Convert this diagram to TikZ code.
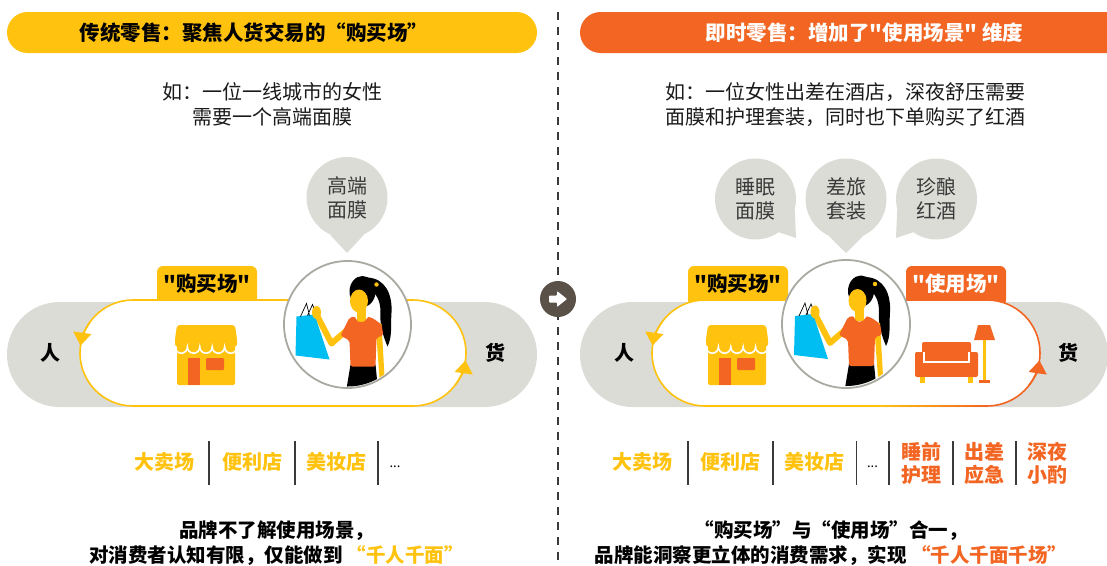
\documentclass[tikz,border=0pt]{standalone}
\usepackage{fontspec}
\setmainfont{Noto Sans CJK SC}[Ligatures=TeXOff]
\usetikzlibrary{arrows.meta}

\definecolor{buyyellow}{HTML}{FFC20E}
\definecolor{useorange}{HTML}{F26522}
\definecolor{paleground}{HTML}{DCDCD7}
\definecolor{ringgray}{HTML}{A9A9A1}
\definecolor{knobgray}{HTML}{5A5249}
\definecolor{bagblue}{HTML}{00BDF2}
\definecolor{inkgray}{HTML}{3A3A3A}
\definecolor{inkblack}{HTML}{1A1A1A}

\tikzset{
	shop/.pic={
		\fill[buyyellow, rounded corners=2pt] (2,6) rectangle (60,60);
		\fill[buyyellow, rounded corners=3pt] (2,0) -- (60,0) -- (62,14) -- (62,22) -- (0,22) -- (0,14) -- cycle;
		\draw[white, line width=1.6pt] (0,22) foreach \i in {0,...,4} {arc[start angle=180, end angle=0, radius=6.2]};
		\fill[useorange] (13,33) rectangle (25,60);
		\fill[useorange, rounded corners=1pt] (31,33) rectangle (49,45);
	},
	shopper/.pic={
		\begin{scope}
			\clip (0,0) circle (62pt);
			\fill[black] (20,-47) .. controls (38,-46) and (45,-30) .. (44,-12) .. controls (43,2) and (45,12) .. (40,22) .. controls (36,12) and (32,2) .. (33,-12) .. controls (33,-24) and (29,-32) .. (20,-36) -- cycle;
			\fill[black] (15,-33) ellipse (13 and 15.5);
			\fill[buyyellow] (11.5,-23.5) ellipse (9 and 11.5);
			\fill[buyyellow] (29,-40) circle (2.2pt);
			\fill[buyyellow] (9,-16) rectangle (18,-3);
			\fill[buyyellow] (28,0) -- (34,-1) -- (37,52) -- (32,53) -- cycle;
			\draw[buyyellow, line width=6pt, line join=round, line cap=round] (-1,6) -- (-16,19) -- (-30,-8);
			\fill[black] (3,40) -- (28,40) -- (31,70) -- (-2,70) -- cycle;
			\fill[useorange, rounded corners=2pt] (2,-7) -- (8,-8) .. controls (9,-1) and (18,-1) .. (20,-8) -- (26,-6) -- (34,0) -- (36,11) -- (29,13) -- (28,42) -- (3,42) -- (2,16) -- (-7,11) -- cycle;
			\fill[bagblue] (-51,-8) -- (-33,-10) -- (-18,35) -- (-52,31) -- cycle;
			\draw[black, line width=0.7pt] (-47,-8) -- (-41,-21) -- (-38,-9) (-40,-9) -- (-35,-20) -- (-31,-10);
			\fill[buyyellow] (-31,-12) ellipse (4.5 and 6.5);
		\end{scope}
	}
}

\begin{document}
\begin{tikzpicture}[x=1pt, y=-1pt,
	titletext/.style={font=\bfseries\fontsize{20.5}{24}\selectfont, inner sep=0pt},
	casetext/.style={font=\fontsize{20}{25}\selectfont, align=center, text=inkblack, inner sep=0pt},
	tabtext/.style={font=\bfseries\fontsize{20.5}{24}\selectfont, inner sep=0pt},
	endtext/.style={font=\bfseries\fontsize{20}{24}\selectfont, inner sep=0pt},
	bubble/.style={circle, fill=paleground, minimum size=81pt, inner sep=0pt, align=center, font=\fontsize{20}{24}\selectfont, text=inkgray},
	ring/.style={circle, draw=ringgray, line width=1.8pt, fill=white, inner sep=0pt},
	channel/.style={font=\bfseries\fontsize{20}{23}\selectfont, align=center, inner sep=0pt},
	bar/.style={line width=1.2pt, draw=inkgray},
	verdict/.style={font=\bfseries\fontsize{19.5}{25}\selectfont, align=center, inner sep=0pt},
	loop/.style={line width=1.6pt},
	loophead/.style={line width=1.6pt, -{Triangle[width=18pt, length=13pt]}}
]
	\useasboundingbox (0,0) rectangle (1107,565);

	\draw[inkgray, line width=1.2pt, dash pattern=on 8pt off 7pt] (558,12) -- (558,565);
	\node[circle, fill=knobgray, minimum size=36pt, inner sep=0pt] (knob) at (558,299) {};
	\fill[white, rounded corners=0.8pt] (549,295.5) -- (557,295.5) -- (557,291) -- (567,299) -- (557,307) -- (557,302.5) -- (549,302.5) -- cycle;

	\fill[buyyellow, rounded corners=20.5pt] (7,12) rectangle (537,53);
	\fill[useorange, rounded corners=20.5pt] (580,12) rectangle (1130,53);
	\node[titletext] (lefttitle) at (254,32.5) {传统零售：聚焦人货交易的“购买场”};
	\node[titletext, text=white] (righttitle) at (864.5,32.5) {即时零售：增加了"使用场景" 维度};

	\node[casetext] (leftcase) at (272,104.5) {如：一位一线城市的女性\\需要一个高端面膜};
	\node[casetext] (rightcase) at (845.5,104.5) {如：一位女性出差在酒店，深夜舒压需要\\面膜和护理套装，同时也下单购买了红酒};

	\fill[paleground, rounded corners=52.5pt] (7,302) rectangle (537,407);
	\fill[paleground, rounded corners=52.5pt] (580,302) rectangle (1108,407);

	\fill[buyyellow, rounded corners=6pt] (157,266) rectangle (257,306);
	\fill[buyyellow, rounded corners=6pt] (688,266) rectangle (788,306);
	\fill[useorange, rounded corners=6pt] (906,266) rectangle (1006,306);

	\draw[loop, buyyellow, fill=white] (133,300) -- (413,300) arc[start angle=-90, end angle=90, radius=53] -- (133,406) arc[start angle=90, end angle=270, radius=53] -- cycle;
	\draw[loophead, buyyellow] ([shift={(133,353)}]216:53) arc[start angle=216, end angle=188, radius=53];
	\draw[loophead, buyyellow] ([shift={(413,353)}]38:53) arc[start angle=38, end angle=8, radius=53];

	\fill[white] (705,300) -- (987,300) arc[start angle=-90, end angle=90, radius=53] -- (705,406) arc[start angle=90, end angle=270, radius=53] -- cycle;
	\draw[loop, buyyellow] (846,300) -- (705,300) arc[start angle=270, end angle=90, radius=53] -- (880,406);
	\draw[loop, useorange] (846,300) -- (987,300) arc[start angle=-90, end angle=90, radius=53] -- (985,406);
	\shade[left color=buyyellow, right color=useorange] (879.5,405.2) rectangle (985.5,406.8);
	\draw[loophead, buyyellow] ([shift={(705,353)}]216:53) arc[start angle=216, end angle=188, radius=53];
	\draw[loophead, useorange] ([shift={(987,353)}]38:53) arc[start angle=38, end angle=8, radius=53];

	\node[tabtext] (leftbuy) at (207,284) {"购买场"};
	\node[tabtext] (rightbuy) at (738,284) {"购买场"};
	\node[tabtext, text=white] (rightuse) at (956,284) {"使用场"};

	\pic at (175,325) {shop};
	\pic at (706,325) {shop};

	\fill[useorange, rounded corners=2pt] (922,342) rectangle (971,362);
	\fill[useorange, rounded corners=2pt] (915,352) rectangle (926,377);
	\fill[useorange, rounded corners=2pt] (967,352) rectangle (978,377);
	\fill[useorange] (924,360) rectangle (969,377);
	\draw[white, line width=1.2pt] (924,352) -- (924,362) -- (969,362) -- (969,352);
	\fill[buyyellow] (920,377) rectangle (925,383);
	\fill[buyyellow] (968,377) rectangle (973,383);
	\fill[useorange] (978,325) -- (990,325) -- (995,340) -- (974,340) -- cycle;
	\fill[buyyellow] (983,340) rectangle (986,380);
	\fill[useorange] (979,380) rectangle (990,383);

	\node[bubble] (need) at (347,197.5) {高端\\面膜};
	\fill[paleground] (need.-65) -- (347,253) -- (need.-115) -- cycle;
	\node[bubble] (sleep) at (755.5,199) {睡眠\\面膜};
	\fill[paleground] (sleep.-15) -- (796,238) -- (sleep.-55) -- cycle;
	\node[bubble] (trip) at (846,199) {差旅\\套装};
	\fill[paleground] (trip.-65) -- (846,253) -- (trip.-115) -- cycle;
	\node[bubble] (wine) at (936.5,199) {珍酿\\红酒};
	\fill[paleground] (wine.-125) -- (896,238) -- (wine.-165) -- cycle;

	\node[ring, minimum size=127pt] (leftgirl) at (347.5,324.5) {};
	\pic at (leftgirl.center) {shopper};
	\node[ring, minimum size=128pt] (rightgirl) at (846,324) {};
	\pic at (rightgirl.center) {shopper};

	\node[endtext] (leftren) at (50,353) {人};
	\node[endtext] (lefthuo) at (495,353) {货};
	\node[endtext] (rightren) at (624,353) {人};
	\node[endtext] (righthuo) at (1068,353) {货};

	\foreach \x in {209, 295, 378, 688, 773, 856.5, 889, 953, 1016}
		\draw[bar] (\x,441)--(\x,485);
	\node[channel, text=buyyellow] (lmart) at (164.5,462) {大卖场};
	\node[channel, text=buyyellow] (lstore) at (252.5,462) {便利店};
	\node[channel, text=buyyellow] (lbeauty) at (336,462) {美妆店};
	\node[font=\fontsize{13}{15}\selectfont, inner sep=0pt] (lmore) at (395,467) {...};
	\node[channel, text=buyyellow] (rmart) at (642.5,462) {大卖场};
	\node[channel, text=buyyellow] (rstore) at (730,462) {便利店};
	\node[channel, text=buyyellow] (rbeauty) at (814.5,462) {美妆店};
	\node[font=\fontsize{13}{15}\selectfont, inner sep=0pt] (rmore) at (872.5,467) {...};
	\node[channel, text=useorange] (rnight) at (921,463.5) {睡前\\护理};
	\node[channel, text=useorange] (rtravel) at (984.5,463.5) {出差\\应急};
	\node[channel, text=useorange] (rdrink) at (1047,463.5) {深夜\\小酌};

	\node[verdict] (leftsum) at (276.5,543.5) {品牌不了解使用场景，\\对消费者认知有限，仅能做到 \textcolor{buyyellow}{“千人千面”}};
	\node[verdict] (rightsum) at (831,543.5) {“购买场”与“使用场”合一，\\品牌能洞察更立体的消费需求，实现 \textcolor{useorange}{“千人千面千场”}};
\end{tikzpicture}
\end{document}
